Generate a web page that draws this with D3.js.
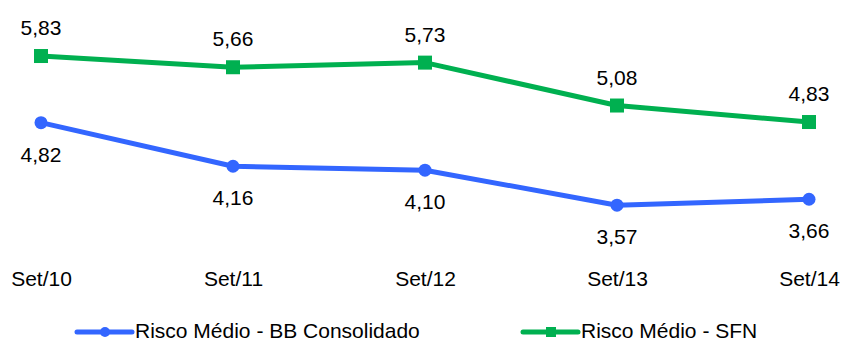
<!DOCTYPE html>
<html>
<head>
<meta charset="utf-8">
<script src="https://cdn.jsdelivr.net/npm/d3@7"></script>
<style>
  html, body { margin: 0; padding: 0; background: #fff; }
  svg { display: block; font-family: "Liberation Sans", Arial, sans-serif; }
</style>
</head>
<body>
<svg id="chart" width="843" height="343"></svg>
<script>
const categories = ["Set/10", "Set/11", "Set/12", "Set/13", "Set/14"];
const bbValues = [4.82, 4.16, 4.10, 3.57, 3.66];
const sfnValues = [5.83, 5.66, 5.73, 5.08, 4.83];
const seriesNames = ["Risco Médio - BB Consolidado", "Risco Médio - SFN"];

const blue = "#3366FF";
const green = "#00B050";
const fontSize = 21;
const fmt = v => v.toFixed(2).replace(".", ",");

const svg = d3.select("#chart");

const x = d3.scalePoint().domain(categories).range([41, 809]);
const y = d3.scaleLinear().domain([3, 7]).range([242.8, -21.2]);

const line = d3.line().x((d, i) => x(categories[i])).y(d => y(d));

// SFN series
svg.append("path").datum(sfnValues)
  .attr("d", line).attr("fill", "none")
  .attr("stroke", green).attr("stroke-width", 5).attr("stroke-linejoin", "round");
svg.selectAll(".sq").data(sfnValues).enter().append("rect")
  .attr("x", (d, i) => x(categories[i]) - 7)
  .attr("y", d => y(d) - 7)
  .attr("width", 14).attr("height", 14).attr("fill", green);
svg.selectAll(".sfnlab").data(sfnValues).enter().append("text")
  .attr("x", (d, i) => x(categories[i]))
  .attr("y", d => y(d) - 21)
  .attr("text-anchor", "middle").attr("font-size", fontSize).attr("fill", "#000")
  .text(fmt);

// BB series
svg.append("path").datum(bbValues)
  .attr("d", line).attr("fill", "none")
  .attr("stroke", blue).attr("stroke-width", 5).attr("stroke-linejoin", "round");
svg.selectAll(".dot").data(bbValues).enter().append("circle")
  .attr("cx", (d, i) => x(categories[i]))
  .attr("cy", d => y(d))
  .attr("r", 6.5).attr("fill", blue);
svg.selectAll(".bblab").data(bbValues).enter().append("text")
  .attr("x", (d, i) => x(categories[i]))
  .attr("y", d => y(d) + 39)
  .attr("text-anchor", "middle").attr("font-size", fontSize).attr("fill", "#000")
  .text(fmt);

// Category axis labels
const xAxis = d3.axisBottom(x).tickSize(0).tickPadding(0);
const gx = svg.append("g").attr("transform", "translate(0,271)").call(xAxis);
gx.select(".domain").remove();
gx.selectAll("text").attr("font-size", fontSize).attr("fill", "#000")
  .attr("font-family", "Liberation Sans, Arial, sans-serif");

// Legend
const legend = [
  { name: seriesNames[0], color: blue, shape: "circle", x0: 77 },
  { name: seriesNames[1], color: green, shape: "square", x0: 523 }
];
const lg = svg.append("g");
legend.forEach(l => {
  const cy = 332;
  lg.append("line").attr("x1", l.x0).attr("x2", l.x0 + 55)
    .attr("y1", cy).attr("y2", cy)
    .attr("stroke", l.color).attr("stroke-width", 5).attr("stroke-linecap", "round");
  if (l.shape === "circle") {
    lg.append("circle").attr("cx", l.x0 + 28).attr("cy", cy).attr("r", 5).attr("fill", l.color);
  } else {
    lg.append("rect").attr("x", l.x0 + 23).attr("y", cy - 5).attr("width", 10).attr("height", 10).attr("fill", l.color);
  }
  lg.append("text").attr("x", l.x0 + 58).attr("y", 338)
    .attr("font-size", fontSize).attr("fill", "#000").text(l.name);
});
</script>
</body>
</html>
